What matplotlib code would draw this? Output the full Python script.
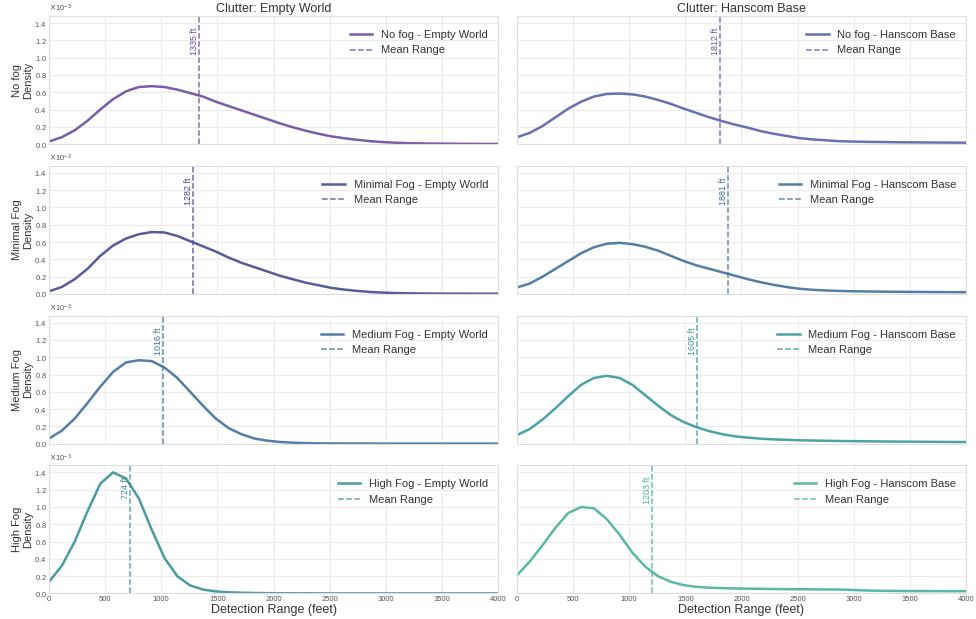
import matplotlib
matplotlib.use("Agg")
import matplotlib.pyplot as plt
from matplotlib.ticker import ScalarFormatter, MultipleLocator

plt.rcParams['font.family'] = ['Liberation Sans', 'DejaVu Sans']
plt.rcParams['axes.edgecolor'] = '#dedede'
plt.rcParams['grid.color'] = '#ececec'

# Detection range grid (feet) where the densities were evaluated
range_ft = [0, 114, 229, 343, 457, 571, 686, 800, 914, 1029, 1143, 1257,
            1371, 1486, 1600, 1714, 1829, 1943, 2057, 2171, 2286, 2400, 2514, 2629,
            2743, 2857, 2971, 3086, 3200, 3314, 3429, 3543, 3657, 3771, 3886, 4000]

fog_levels = ['No fog', 'Minimal Fog', 'Medium Fog', 'High Fog']
clutters = ['Empty World', 'Hanscom Base']

# density values, x 1e-3
empty_no_fog = [0.03, 0.08, 0.16, 0.27, 0.40, 0.52, 0.61, 0.66, 0.67, 0.66, 0.63, 0.59,
                0.55, 0.49, 0.44, 0.39, 0.34, 0.29, 0.24, 0.195, 0.155, 0.12, 0.09, 0.068,
                0.05, 0.035, 0.024, 0.016, 0.011, 0.008, 0.006, 0.005, 0.004, 0.003, 0.002, 0.002]
hanscom_no_fog = [0.08, 0.13, 0.21, 0.31, 0.41, 0.49, 0.55, 0.58, 0.585, 0.575, 0.55, 0.51,
                  0.465, 0.41, 0.36, 0.31, 0.265, 0.225, 0.19, 0.15, 0.12, 0.095, 0.07, 0.055,
                  0.045, 0.035, 0.03, 0.027, 0.025, 0.023, 0.021, 0.02, 0.019, 0.018, 0.017, 0.016]
empty_minimal = [0.03, 0.08, 0.17, 0.29, 0.44, 0.56, 0.64, 0.69, 0.715, 0.71, 0.67, 0.61,
                 0.55, 0.49, 0.42, 0.36, 0.31, 0.26, 0.21, 0.17, 0.13, 0.10, 0.07, 0.05,
                 0.035, 0.023, 0.015, 0.01, 0.007, 0.005, 0.004, 0.003, 0.003, 0.002, 0.002, 0.002]
hanscom_minimal = [0.075, 0.12, 0.20, 0.29, 0.38, 0.47, 0.54, 0.58, 0.59, 0.575, 0.545, 0.50,
                   0.44, 0.38, 0.33, 0.29, 0.25, 0.21, 0.17, 0.135, 0.105, 0.08, 0.06, 0.048,
                   0.04, 0.035, 0.031, 0.029, 0.027, 0.025, 0.024, 0.023, 0.022, 0.021, 0.02, 0.02]
empty_medium = [0.06, 0.15, 0.29, 0.47, 0.66, 0.83, 0.94, 0.965, 0.955, 0.88, 0.76, 0.60,
                0.44, 0.29, 0.18, 0.11, 0.06, 0.035, 0.02, 0.012, 0.007, 0.004, 0.003, 0.002,
                0.002, 0.002, 0.001, 0.001, 0.001, 0.001, 0.001, 0.001, 0.001, 0.001, 0.001, 0.001]
hanscom_medium = [0.10, 0.17, 0.28, 0.41, 0.55, 0.68, 0.76, 0.785, 0.76, 0.68, 0.56, 0.44,
                  0.33, 0.25, 0.19, 0.145, 0.11, 0.085, 0.07, 0.058, 0.05, 0.045, 0.04, 0.037,
                  0.034, 0.032, 0.03, 0.028, 0.027, 0.025, 0.024, 0.023, 0.022, 0.021, 0.02, 0.02]
empty_high = [0.135, 0.32, 0.60, 0.95, 1.27, 1.40, 1.33, 1.10, 0.74, 0.41, 0.20, 0.093,
              0.046, 0.024, 0.014, 0.009, 0.006, 0.004, 0.003, 0.002, 0.002, 0.001, 0.001, 0.001,
              0.001, 0.001, 0.001, 0.001, 0.001, 0.001, 0.001, 0.001, 0.001, 0.001, 0.001, 0.001]
hanscom_high = [0.21, 0.37, 0.56, 0.76, 0.93, 1.0, 0.985, 0.86, 0.68, 0.47, 0.31, 0.20,
                0.135, 0.096, 0.077, 0.067, 0.062, 0.058, 0.056, 0.054, 0.052, 0.05, 0.049, 0.048,
                0.047, 0.046, 0.042, 0.036, 0.032, 0.03, 0.029, 0.028, 0.028, 0.027, 0.027, 0.027]

mean_empty = [1335, 1282, 1016, 724]
mean_hanscom = [1812, 1881, 1605, 1203]

colors_empty = ['#6a4c9c', '#474b8c', '#41709b', '#3a8f99']
colors_hanscom = ['#5a61a7', '#43709a', '#3b979e', '#47b29c']

densities = [[empty_no_fog, hanscom_no_fog],
             [empty_minimal, hanscom_minimal],
             [empty_medium, hanscom_medium],
             [empty_high, hanscom_high]]
means = [mean_empty, mean_hanscom]
colors = [colors_empty, colors_hanscom]

fig, axes = plt.subplots(4, 2, figsize=(9.76, 6.19), dpi=100, sharex=True, sharey=True)
plt.subplots_adjust(left=0.0502, right=0.9898, top=0.974, bottom=0.0412, hspace=0.17, wspace=0.042)

for i, fog in enumerate(fog_levels):
    for j, clutter in enumerate(clutters):
        ax = axes[i, j]
        c = colors[j][i]
        y = [v * 1e-3 for v in densities[i][j]]
        ax.plot(range_ft, y, color=c, lw=1.8, alpha=0.9, label=f'{fog} - {clutter}')
        m = means[j][i]
        ax.axvline(m, color=c, ls='--', lw=1.1, alpha=0.8, label='Mean Range')
        ax.text(m, 1.35e-3, f'{m} ft', rotation=90, va='top', ha='right', color=c, fontsize=6.5)
        ax.set_xlim(0, 4000)
        ax.set_ylim(0, 1.48e-3)
        ax.grid(True, lw=0.8)
        ax.tick_params(length=0, labelsize=5.5, colors='#555555', pad=1.5)
        ax.xaxis.set_major_locator(MultipleLocator(500))
        ax.yaxis.set_major_locator(MultipleLocator(0.2e-3))
        fmt = ScalarFormatter(useMathText=True)
        fmt.set_powerlimits((-2, 2))
        ax.yaxis.set_major_formatter(fmt)
        ax.yaxis.offsetText.set_fontsize(5.5)
        ax.yaxis.offsetText.set_color('#555555')
        ax.legend(loc='upper right', bbox_to_anchor=(1.0, 0.97), frameon=False, fontsize=8,
                  labelcolor='#333333')
        if i == 0:
            ax.set_title(f'Clutter: {clutter}', fontsize=9, color='#333333', pad=3)
        if j == 0:
            ax.set_ylabel(f'{fog}\nDensity', fontsize=8, color='#333333', labelpad=1)
        if i == 3:
            ax.set_xlabel('Detection Range (feet)', fontsize=9, color='#333333', labelpad=1)

fig.savefig('out.png', dpi=100)
